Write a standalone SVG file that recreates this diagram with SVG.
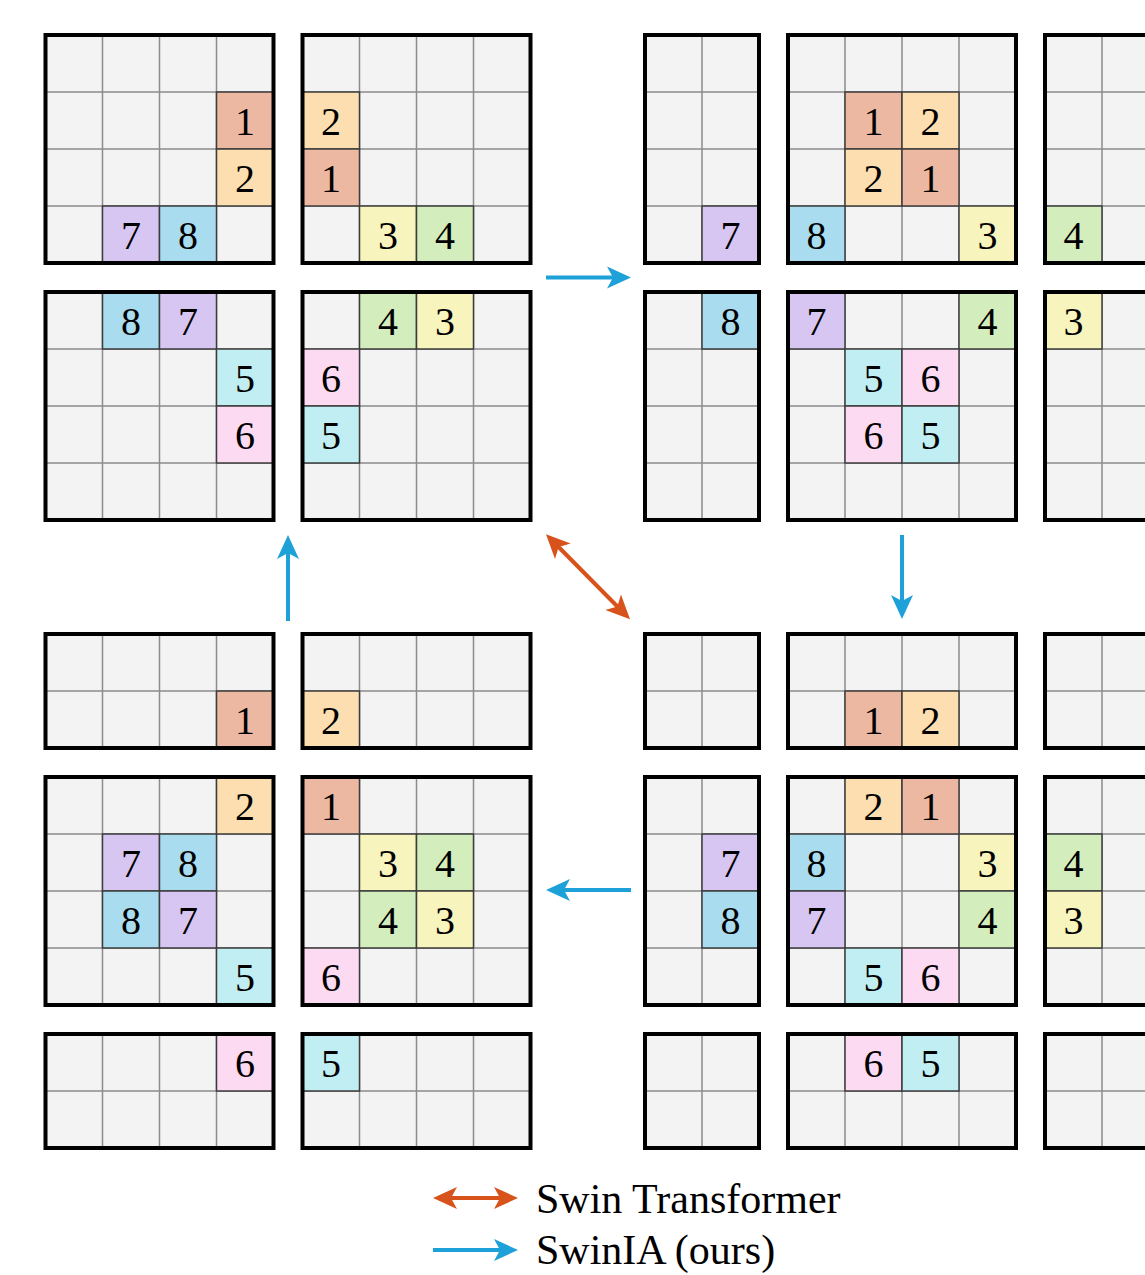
<svg xmlns="http://www.w3.org/2000/svg" width="1145" height="1275" viewBox="0 0 1145 1275">
<style>
.bg{fill:#f3f3f3}
.g{stroke:#8c8c8c;stroke-width:1.5;fill:none}
.b{fill:none;stroke:#000;stroke-width:4}
.k{stroke:#3c3c3c;stroke-width:1.5}
.c1{fill:#edb8a2}.c2{fill:#fcdeb0}.c3{fill:#f8f4bd}.c4{fill:#d3edbc}
.c5{fill:#c0eef3}.c6{fill:#fcdaf2}.c7{fill:#d8c6f2}.c8{fill:#a9dcef}
text{font-family:"Liberation Serif","Times New Roman",serif;fill:#000}
.n{font-size:40px;text-anchor:middle}
.lg{font-size:42px}
.ab{stroke:#1da1d8;stroke-width:4;fill:none}
.ao{stroke:#d8531c;stroke-width:4;fill:none}
</style>
<defs>
<marker id="hb" markerUnits="userSpaceOnUse" markerWidth="26" markerHeight="24" viewBox="0 0 26 24" refX="18" refY="12" orient="auto"><path d="M0 1 L24 12 L0 23 L6 12 Z" fill="#1da1d8"/></marker>
<marker id="ho" markerUnits="userSpaceOnUse" markerWidth="26" markerHeight="24" viewBox="0 0 26 24" refX="18" refY="12" orient="auto-start-reverse"><path d="M0 1 L24 12 L0 23 L6 12 Z" fill="#d8531c"/></marker>
</defs>
<rect width="1145" height="1275" fill="#fff"/>

<!-- Top-left panel -->
<g id="tl-a" transform="translate(45.5,35)">
<rect class="bg" width="228" height="228"/>
<path class="g" d="M57 0V228M114 0V228M171 0V228M0 57H228M0 114H228M0 171H228"/>
<rect class="c1 k" x="171" y="57" width="57" height="57"/><text class="n" x="199.5" y="100">1</text>
<rect class="c2 k" x="171" y="114" width="57" height="57"/><text class="n" x="199.5" y="157">2</text>
<rect class="c7 k" x="57" y="171" width="57" height="57"/><text class="n" x="85.5" y="214">7</text>
<rect class="c8 k" x="114" y="171" width="57" height="57"/><text class="n" x="142.5" y="214">8</text>
<rect class="b" width="228" height="228"/>
</g>
<g id="tl-b" transform="translate(302.5,35)">
<rect class="bg" width="228" height="228"/>
<path class="g" d="M57 0V228M114 0V228M171 0V228M0 57H228M0 114H228M0 171H228"/>
<rect class="c2 k" x="0" y="57" width="57" height="57"/><text class="n" x="28.5" y="100">2</text>
<rect class="c1 k" x="0" y="114" width="57" height="57"/><text class="n" x="28.5" y="157">1</text>
<rect class="c3 k" x="57" y="171" width="57" height="57"/><text class="n" x="85.5" y="214">3</text>
<rect class="c4 k" x="114" y="171" width="57" height="57"/><text class="n" x="142.5" y="214">4</text>
<rect class="b" width="228" height="228"/>
</g>
<g id="tl-c" transform="translate(45.5,292)">
<rect class="bg" width="228" height="228"/>
<path class="g" d="M57 0V228M114 0V228M171 0V228M0 57H228M0 114H228M0 171H228"/>
<rect class="c8 k" x="57" y="0" width="57" height="57"/><text class="n" x="85.5" y="43">8</text>
<rect class="c7 k" x="114" y="0" width="57" height="57"/><text class="n" x="142.5" y="43">7</text>
<rect class="c5 k" x="171" y="57" width="57" height="57"/><text class="n" x="199.5" y="100">5</text>
<rect class="c6 k" x="171" y="114" width="57" height="57"/><text class="n" x="199.5" y="157">6</text>
<rect class="b" width="228" height="228"/>
</g>
<g id="tl-d" transform="translate(302.5,292)">
<rect class="bg" width="228" height="228"/>
<path class="g" d="M57 0V228M114 0V228M171 0V228M0 57H228M0 114H228M0 171H228"/>
<rect class="c4 k" x="57" y="0" width="57" height="57"/><text class="n" x="85.5" y="43">4</text>
<rect class="c3 k" x="114" y="0" width="57" height="57"/><text class="n" x="142.5" y="43">3</text>
<rect class="c6 k" x="0" y="57" width="57" height="57"/><text class="n" x="28.5" y="100">6</text>
<rect class="c5 k" x="0" y="114" width="57" height="57"/><text class="n" x="28.5" y="157">5</text>
<rect class="b" width="228" height="228"/>
</g>

<!-- Top-right panel -->
<g id="tr-a" transform="translate(645,35)">
<rect class="bg" width="114" height="228"/>
<path class="g" d="M57 0V228M0 57H114M0 114H114M0 171H114"/>
<rect class="c7 k" x="57" y="171" width="57" height="57"/><text class="n" x="85.5" y="214">7</text>
<rect class="b" width="114" height="228"/>
</g>
<g id="tr-b" transform="translate(788,35)">
<rect class="bg" width="228" height="228"/>
<path class="g" d="M57 0V228M114 0V228M171 0V228M0 57H228M0 114H228M0 171H228"/>
<rect class="c1 k" x="57" y="57" width="57" height="57"/><text class="n" x="85.5" y="100">1</text>
<rect class="c2 k" x="114" y="57" width="57" height="57"/><text class="n" x="142.5" y="100">2</text>
<rect class="c2 k" x="57" y="114" width="57" height="57"/><text class="n" x="85.5" y="157">2</text>
<rect class="c1 k" x="114" y="114" width="57" height="57"/><text class="n" x="142.5" y="157">1</text>
<rect class="c8 k" x="0" y="171" width="57" height="57"/><text class="n" x="28.5" y="214">8</text>
<rect class="c3 k" x="171" y="171" width="57" height="57"/><text class="n" x="199.5" y="214">3</text>
<rect class="b" width="228" height="228"/>
</g>
<g id="tr-c" transform="translate(1045,35)">
<rect class="bg" width="228" height="228"/>
<path class="g" d="M57 0V228M114 0V228M171 0V228M0 57H228M0 114H228M0 171H228"/>
<rect class="c4 k" x="0" y="171" width="57" height="57"/><text class="n" x="28.5" y="214">4</text>
<rect class="b" width="228" height="228"/>
</g>
<g id="tr-d" transform="translate(645,292)">
<rect class="bg" width="114" height="228"/>
<path class="g" d="M57 0V228M0 57H114M0 114H114M0 171H114"/>
<rect class="c8 k" x="57" y="0" width="57" height="57"/><text class="n" x="85.5" y="43">8</text>
<rect class="b" width="114" height="228"/>
</g>
<g id="tr-e" transform="translate(788,292)">
<rect class="bg" width="228" height="228"/>
<path class="g" d="M57 0V228M114 0V228M171 0V228M0 57H228M0 114H228M0 171H228"/>
<rect class="c7 k" x="0" y="0" width="57" height="57"/><text class="n" x="28.5" y="43">7</text>
<rect class="c4 k" x="171" y="0" width="57" height="57"/><text class="n" x="199.5" y="43">4</text>
<rect class="c5 k" x="57" y="57" width="57" height="57"/><text class="n" x="85.5" y="100">5</text>
<rect class="c6 k" x="114" y="57" width="57" height="57"/><text class="n" x="142.5" y="100">6</text>
<rect class="c6 k" x="57" y="114" width="57" height="57"/><text class="n" x="85.5" y="157">6</text>
<rect class="c5 k" x="114" y="114" width="57" height="57"/><text class="n" x="142.5" y="157">5</text>
<rect class="b" width="228" height="228"/>
</g>
<g id="tr-f" transform="translate(1045,292)">
<rect class="bg" width="228" height="228"/>
<path class="g" d="M57 0V228M114 0V228M171 0V228M0 57H228M0 114H228M0 171H228"/>
<rect class="c3 k" x="0" y="0" width="57" height="57"/><text class="n" x="28.5" y="43">3</text>
<rect class="b" width="228" height="228"/>
</g>

<!-- Bottom-left panel -->
<g id="bl-a" transform="translate(45.5,634)">
<rect class="bg" width="228" height="114"/>
<path class="g" d="M57 0V114M114 0V114M171 0V114M0 57H228"/>
<rect class="c1 k" x="171" y="57" width="57" height="57"/><text class="n" x="199.5" y="100">1</text>
<rect class="b" width="228" height="114"/>
</g>
<g id="bl-b" transform="translate(302.5,634)">
<rect class="bg" width="228" height="114"/>
<path class="g" d="M57 0V114M114 0V114M171 0V114M0 57H228"/>
<rect class="c2 k" x="0" y="57" width="57" height="57"/><text class="n" x="28.5" y="100">2</text>
<rect class="b" width="228" height="114"/>
</g>
<g id="bl-c" transform="translate(45.5,777)">
<rect class="bg" width="228" height="228"/>
<path class="g" d="M57 0V228M114 0V228M171 0V228M0 57H228M0 114H228M0 171H228"/>
<rect class="c2 k" x="171" y="0" width="57" height="57"/><text class="n" x="199.5" y="43">2</text>
<rect class="c7 k" x="57" y="57" width="57" height="57"/><text class="n" x="85.5" y="100">7</text>
<rect class="c8 k" x="114" y="57" width="57" height="57"/><text class="n" x="142.5" y="100">8</text>
<rect class="c8 k" x="57" y="114" width="57" height="57"/><text class="n" x="85.5" y="157">8</text>
<rect class="c7 k" x="114" y="114" width="57" height="57"/><text class="n" x="142.5" y="157">7</text>
<rect class="c5 k" x="171" y="171" width="57" height="57"/><text class="n" x="199.5" y="214">5</text>
<rect class="b" width="228" height="228"/>
</g>
<g id="bl-d" transform="translate(302.5,777)">
<rect class="bg" width="228" height="228"/>
<path class="g" d="M57 0V228M114 0V228M171 0V228M0 57H228M0 114H228M0 171H228"/>
<rect class="c1 k" x="0" y="0" width="57" height="57"/><text class="n" x="28.5" y="43">1</text>
<rect class="c3 k" x="57" y="57" width="57" height="57"/><text class="n" x="85.5" y="100">3</text>
<rect class="c4 k" x="114" y="57" width="57" height="57"/><text class="n" x="142.5" y="100">4</text>
<rect class="c4 k" x="57" y="114" width="57" height="57"/><text class="n" x="85.5" y="157">4</text>
<rect class="c3 k" x="114" y="114" width="57" height="57"/><text class="n" x="142.5" y="157">3</text>
<rect class="c6 k" x="0" y="171" width="57" height="57"/><text class="n" x="28.5" y="214">6</text>
<rect class="b" width="228" height="228"/>
</g>
<g id="bl-e" transform="translate(45.5,1034)">
<rect class="bg" width="228" height="114"/>
<path class="g" d="M57 0V114M114 0V114M171 0V114M0 57H228"/>
<rect class="c6 k" x="171" y="0" width="57" height="57"/><text class="n" x="199.5" y="43">6</text>
<rect class="b" width="228" height="114"/>
</g>
<g id="bl-f" transform="translate(302.5,1034)">
<rect class="bg" width="228" height="114"/>
<path class="g" d="M57 0V114M114 0V114M171 0V114M0 57H228"/>
<rect class="c5 k" x="0" y="0" width="57" height="57"/><text class="n" x="28.5" y="43">5</text>
<rect class="b" width="228" height="114"/>
</g>

<!-- Bottom-right panel -->
<g id="br-a" transform="translate(645,634)">
<rect class="bg" width="114" height="114"/>
<path class="g" d="M57 0V114M0 57H114"/>
<rect class="b" width="114" height="114"/>
</g>
<g id="br-b" transform="translate(788,634)">
<rect class="bg" width="228" height="114"/>
<path class="g" d="M57 0V114M114 0V114M171 0V114M0 57H228"/>
<rect class="c1 k" x="57" y="57" width="57" height="57"/><text class="n" x="85.5" y="100">1</text>
<rect class="c2 k" x="114" y="57" width="57" height="57"/><text class="n" x="142.5" y="100">2</text>
<rect class="b" width="228" height="114"/>
</g>
<g id="br-c" transform="translate(1045,634)">
<rect class="bg" width="228" height="114"/>
<path class="g" d="M57 0V114M114 0V114M171 0V114M0 57H228"/>
<rect class="b" width="228" height="114"/>
</g>
<g id="br-d" transform="translate(645,777)">
<rect class="bg" width="114" height="228"/>
<path class="g" d="M57 0V228M0 57H114M0 114H114M0 171H114"/>
<rect class="c7 k" x="57" y="57" width="57" height="57"/><text class="n" x="85.5" y="100">7</text>
<rect class="c8 k" x="57" y="114" width="57" height="57"/><text class="n" x="85.5" y="157">8</text>
<rect class="b" width="114" height="228"/>
</g>
<g id="br-e" transform="translate(788,777)">
<rect class="bg" width="228" height="228"/>
<path class="g" d="M57 0V228M114 0V228M171 0V228M0 57H228M0 114H228M0 171H228"/>
<rect class="c2 k" x="57" y="0" width="57" height="57"/><text class="n" x="85.5" y="43">2</text>
<rect class="c1 k" x="114" y="0" width="57" height="57"/><text class="n" x="142.5" y="43">1</text>
<rect class="c8 k" x="0" y="57" width="57" height="57"/><text class="n" x="28.5" y="100">8</text>
<rect class="c3 k" x="171" y="57" width="57" height="57"/><text class="n" x="199.5" y="100">3</text>
<rect class="c7 k" x="0" y="114" width="57" height="57"/><text class="n" x="28.5" y="157">7</text>
<rect class="c4 k" x="171" y="114" width="57" height="57"/><text class="n" x="199.5" y="157">4</text>
<rect class="c5 k" x="57" y="171" width="57" height="57"/><text class="n" x="85.5" y="214">5</text>
<rect class="c6 k" x="114" y="171" width="57" height="57"/><text class="n" x="142.5" y="214">6</text>
<rect class="b" width="228" height="228"/>
</g>
<g id="br-f" transform="translate(1045,777)">
<rect class="bg" width="228" height="228"/>
<path class="g" d="M57 0V228M114 0V228M171 0V228M0 57H228M0 114H228M0 171H228"/>
<rect class="c4 k" x="0" y="57" width="57" height="57"/><text class="n" x="28.5" y="100">4</text>
<rect class="c3 k" x="0" y="114" width="57" height="57"/><text class="n" x="28.5" y="157">3</text>
<rect class="b" width="228" height="228"/>
</g>
<g id="br-g" transform="translate(645,1034)">
<rect class="bg" width="114" height="114"/>
<path class="g" d="M57 0V114M0 57H114"/>
<rect class="b" width="114" height="114"/>
</g>
<g id="br-h" transform="translate(788,1034)">
<rect class="bg" width="228" height="114"/>
<path class="g" d="M57 0V114M114 0V114M171 0V114M0 57H228"/>
<rect class="c6 k" x="57" y="0" width="57" height="57"/><text class="n" x="85.5" y="43">6</text>
<rect class="c5 k" x="114" y="0" width="57" height="57"/><text class="n" x="142.5" y="43">5</text>
<rect class="b" width="228" height="114"/>
</g>
<g id="br-i" transform="translate(1045,1034)">
<rect class="bg" width="228" height="114"/>
<path class="g" d="M57 0V114M114 0V114M171 0V114M0 57H228"/>
<rect class="b" width="228" height="114"/>
</g>

<!-- Connectors -->
<g id="connectors">
<line class="ab" x1="546" y1="277.5" x2="625" y2="277.5" marker-end="url(#hb)"/>
<line class="ab" x1="902" y1="535" x2="902" y2="613" marker-end="url(#hb)"/>
<line class="ab" x1="631" y1="890" x2="552" y2="890" marker-end="url(#hb)"/>
<line class="ab" x1="288" y1="621" x2="288" y2="541" marker-end="url(#hb)"/>
<line class="ao" x1="550.2" y1="538.5" x2="625.8" y2="615" marker-start="url(#ho)" marker-end="url(#ho)"/>
</g>

<!-- Legend -->
<g id="legend">
<line class="ao" x1="439" y1="1198" x2="512" y2="1198" marker-start="url(#ho)" marker-end="url(#ho)"/>
<text class="lg" x="536" y="1213">Swin Transformer</text>
<line class="ab" x1="433" y1="1250" x2="512" y2="1250" marker-end="url(#hb)"/>
<text class="lg" x="536" y="1264">SwinIA (ours)</text>
</g>
</svg>
